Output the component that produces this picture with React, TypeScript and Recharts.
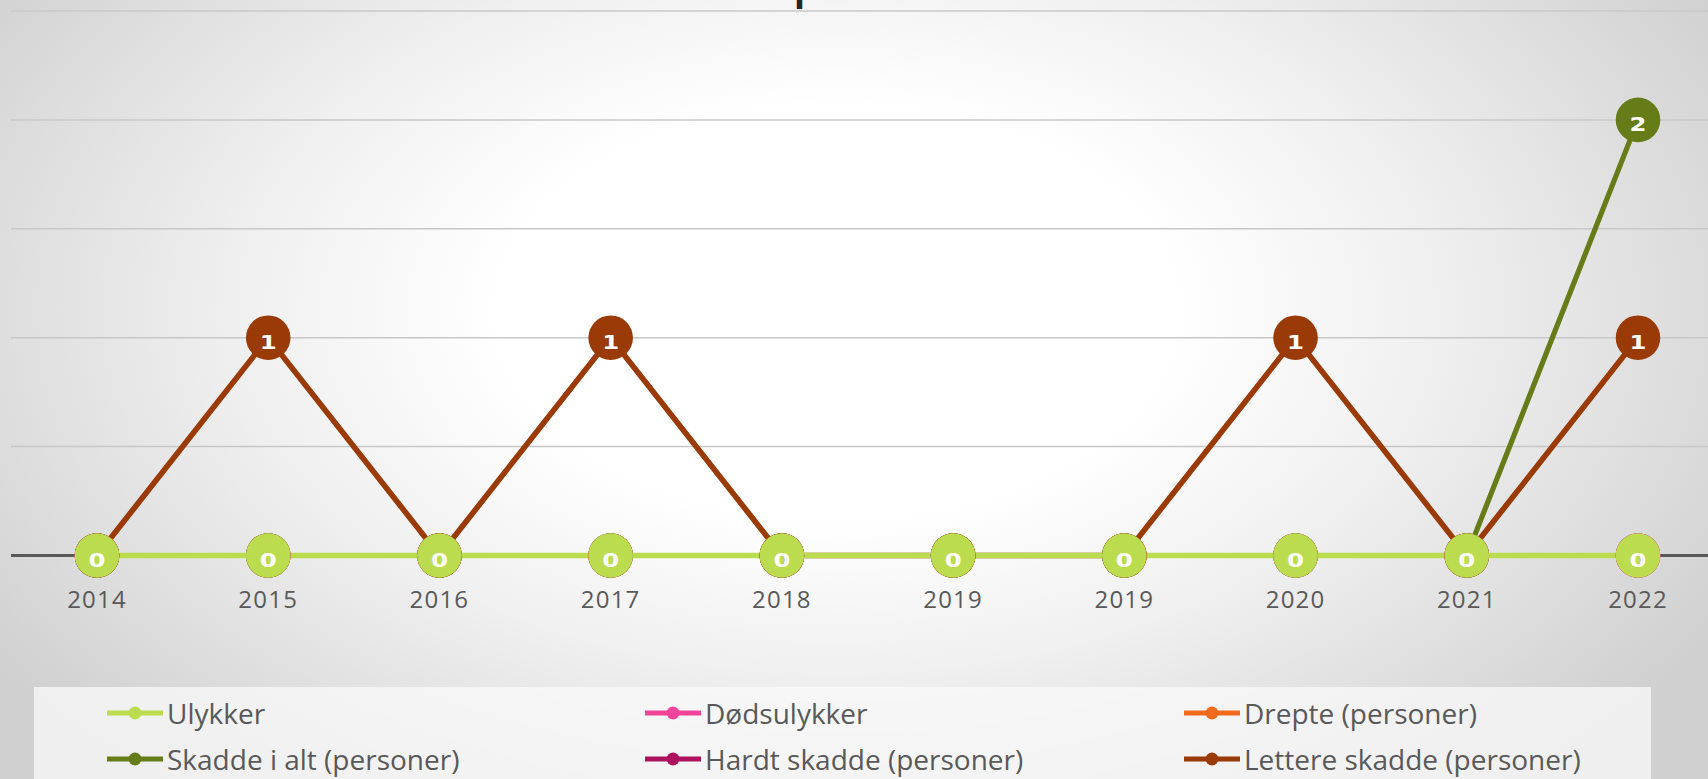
import React from 'react';
import { LineChart, Line, XAxis, YAxis, CartesianGrid } from 'recharts';

const categories = ['2014', '2015', '2016', '2017', '2018', '2019', '2019', '2020', '2021', '2022'];
const ulykker = [0, 0, 0, 0, 0, 0, 0, 0, 0, 0];
const dodsulykker = [0, 0, 0, 0, 0, 0, 0, 0, 0, 0];
const drepte = [0, 0, 0, 0, 0, 0, 0, 0, 0, 0];
const skaddeIAlt = [0, 0, 0, 0, 0, 0, 0, 0, 0, 2];
const hardtSkadde = [0, 0, 0, 0, 0, 0, 0, 0, 0, 0];
const lettereSkadde = [0, 1, 0, 1, 0, 0, 0, 1, 0, 1];
const yTicks = [0, 0.5, 1, 1.5, 2, 2.5];

const series = [
  { key: 'ulykker', name: 'Ulykker', color: '#bcdc4f', values: ulykker, width: 5.6 },
  { key: 'dodsulykker', name: 'Dødsulykker', color: '#f0449b', values: dodsulykker, width: 4.5 },
  { key: 'drepte', name: 'Drepte (personer)', color: '#f26b1d', values: drepte, width: 4.5 },
  { key: 'skadde', name: 'Skadde i alt (personer)', color: '#657c19', values: skaddeIAlt, width: 5.2 },
  { key: 'hardt', name: 'Hardt skadde (personer)', color: '#ac125e', values: hardtSkadde, width: 4.5 },
  { key: 'lettere', name: 'Lettere skadde (personer)', color: '#9a3a07', values: lettereSkadde, width: 5.6 },
];

const data = categories.map((c, i) => {
  const row: any = { idx: i, year: c };
  series.forEach((s) => (row[s.key] = s.values[i]));
  return row;
});

const drawOrder = [4, 2, 1, 3, 5, 0];

const FONT = '"Open Sans", sans-serif';

function makeDot(color: string) {
  return (props: any) => {
    const { cx, cy, value, index } = props;
    if (cx == null || cy == null) return <g key={`d-${index}`} />;
    return (
      <g key={`d-${index}`}>
        <circle cx={cx} cy={cy} r={22.3} fill={color} />
        <text
          transform={`translate(${cx},${cy + 11}) scale(1.25,1)`}
          x={0}
          y={0}
          textAnchor="middle"
          fill="#ffffff"
          fontFamily='"DejaVu Sans", sans-serif'
          fontWeight={700}
          fontSize={19.5}
        >
          {value}
        </text>
      </g>
    );
  };
}

const XTick = (props: any) => {
  const { x, y, payload } = props;
  return (
    <text
      x={x}
      y={y + 44}
      textAnchor="middle"
      fill="#595959"
      fontFamily={FONT}
      fontSize={24}
      letterSpacing={1.2}
    >
      {categories[payload.value]}
    </text>
  );
};

const legendCols = [107, 645, 1184];
const legendRows = [713, 759];

export default function App() {
  return (
    <div
      style={{
        position: 'absolute',
        left: 0,
        top: 0,
        width: 1708,
        height: 779,
        overflow: 'hidden',
        background: 'radial-gradient(ellipse 60% 80% at 49% 40%, #ffffff 33%, #f0f0f0 58%, #d0d0d0 100%)',
      }}
    >
      <svg style={{ position: 'absolute', left: 0, top: 0 }} width={1708} height={40}>
        <text x={794} y={0} fontFamily={FONT} fontWeight={700} fontSize={36} fill="#262626">p</text>
      </svg>
      <div style={{ position: 'absolute', left: 0, top: 0 }}>
        <LineChart
          width={1708}
          height={779}
          data={data}
          margin={{ top: 11, right: 0, left: 11, bottom: 163.5 }}
        >
          <CartesianGrid horizontal vertical={false} stroke="#c8c8c8" strokeWidth={1.5} />
          <XAxis
            dataKey="idx"
            type="category"
            height={60}
            padding={{ left: 86, right: 70 }}
            axisLine={{ stroke: '#595959', strokeWidth: 3 }}
            tickLine={false}
            tick={<XTick />}
            interval={0}
            zIndex={0}
          />
          <YAxis hide domain={[0, 2.5]} ticks={yTicks} width={0} />
          {drawOrder.map((i) => {
            const s = series[i];
            return (
              <Line
                key={s.key}
                dataKey={s.key}
                name={s.name}
                stroke={s.color}
                strokeWidth={s.width}
                dot={makeDot(s.color)}
                activeDot={false}
                isAnimationActive={false}
                type="linear"
              />
            );
          })}
        </LineChart>
      </div>
      <div
        style={{
          position: 'absolute',
          left: 34,
          top: 687,
          width: 1617,
          height: 120,
          background: 'rgba(250,250,250,0.75)',
        }}
      />
      {series.map((s, i) => {
        const col = legendCols[i % 3];
        const row = legendRows[Math.floor(i / 3)];
        return (
          <div key={s.key} style={{ position: 'absolute', left: col, top: row - 20, height: 40 }}>
            <svg width={56} height={40} style={{ position: 'absolute', left: 0, top: 0 }}>
              <line x1={0} y1={20} x2={56} y2={20} stroke={s.color} strokeWidth={5} />
              <circle cx={28} cy={20} r={6.5} fill={s.color} />
            </svg>
            <div
              style={{
                position: 'absolute',
                left: 60,
                top: 0,
                lineHeight: '40px',
                whiteSpace: 'nowrap',
                fontFamily: FONT,
                fontSize: 28,
                color: '#595959',
              }}
            >
              {s.name}
            </div>
          </div>
        );
      })}
    </div>
  );
}
